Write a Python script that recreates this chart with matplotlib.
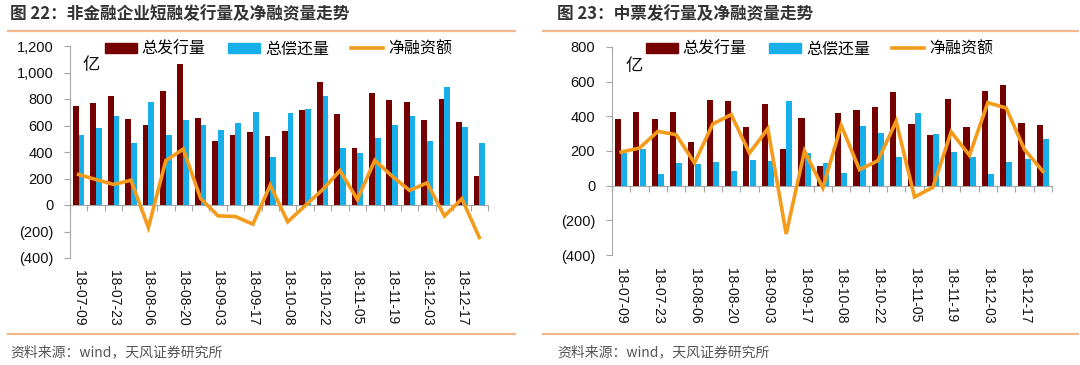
import numpy as np
import matplotlib
matplotlib.use('Agg')
from matplotlib import pyplot as plt
from matplotlib.ticker import FuncFormatter, FixedLocator
from matplotlib.lines import Line2D

plt.rcParams['font.family'] = ['Liberation Sans', 'Noto Sans CJK SC', 'DejaVu Sans']

# %% data
dates = ['18-07-09', '18-07-16', '18-07-23', '18-07-30', '18-08-06', '18-08-13',
         '18-08-20', '18-08-27', '18-09-03', '18-09-10', '18-09-17', '18-09-24',
         '18-10-08', '18-10-15', '18-10-22', '18-10-29', '18-11-05', '18-11-12',
         '18-11-19', '18-11-26', '18-12-03', '18-12-10', '18-12-17', '18-12-24']

# 图22 非金融企业短融
cp_issue = [750, 770, 822, 650, 605, 860, 1067, 660, 482, 532, 550, 517,
            560, 715, 930, 685, 432, 842, 792, 775, 642, 802, 627, 222]
cp_repay = [530, 582, 675, 470, 777, 530, 645, 605, 567, 620, 700, 362,
            692, 725, 820, 427, 392, 505, 607, 675, 480, 890, 587, 470]
cp_net = [230, 192, 155, 187, -170, 335, 422, 50, -82, -87, -145, 150,
          -127, -5, 115, 260, 42, 337, 217, 110, 167, -83, 47, -245]

# 图23 中票
mtn_issue = [385, 425, 383, 425, 252, 494, 490, 338, 473, 213, 392, 115,
             419, 435, 454, 540, 356, 290, 498, 338, 544, 581, 363, 352]
mtn_repay = [188, 212, 69, 131, 125, 135, 87, 150, 140, 490, 188, 131,
             73, 346, 306, 167, 421, 300, 196, 167, 65, 137, 154, 271]
mtn_net = [194, 217, 313, 294, 131, 356, 410, 188, 329, -279, 200, -13,
           348, 92, 144, 371, -65, -10, 310, 175, 479, 448, 208, 83]

RED = '#750000'
BLUE = '#16AFEA'
ORANGE = '#F59B1C'
AXC = '#A6A6A6'
SEP = '#F2B78C'
CJK = ['Noto Sans CJK SC', 'DejaVu Sans']


def paren_fmt(v, pos):
    if v < 0:
        return f'({abs(v):,.0f})'
    return f'{v:,.0f}'


def draw_panel(fig, rect, issue, repay, net, ylim, ystep, legend_x):
    ax = fig.add_axes(rect)
    x = np.arange(len(dates))
    w = 0.33
    ax.bar(x - 0.165, issue, width=w, color=RED, label='总发行量', zorder=2)
    ax.bar(x + 0.165, repay, width=w, color=BLUE, label='总偿还量', zorder=2)
    ax.plot(x, net, color=ORANGE, lw=2.6, label='净融资额', zorder=3,
            solid_joinstyle='miter')

    ax.set_xlim(-0.5, len(dates) - 0.5)
    ax.set_ylim(*ylim)
    ax.set_yticks(np.arange(ylim[0], ylim[1] + 1, ystep))
    ax.yaxis.set_major_formatter(FuncFormatter(paren_fmt))

    for s in ('top', 'right', 'bottom'):
        ax.spines[s].set_visible(False)
    ax.spines['left'].set_color(AXC)
    ax.tick_params(axis='y', length=4, color=AXC, labelsize=10.5, pad=8,
                   labelcolor='#111111')

    # x labels at the bottom, every other week
    ax.set_xticks(x[::2])
    ax.set_xticklabels(dates[::2], rotation=-90, fontsize=10, color='#111111')
    ax.tick_params(axis='x', length=0, pad=9)

    # zero line with boundary ticks
    frac = (0 - ylim[0]) / (ylim[1] - ylim[0])
    sec = ax.secondary_xaxis(frac)
    sec.spines['bottom'].set_color(AXC)
    sec.xaxis.set_major_locator(FixedLocator(np.arange(-0.5, len(dates), 1.0)))
    sec.tick_params(axis='x', length=4, color=AXC, labelbottom=False)

    ax.text(0.03, 0.91, '亿', transform=ax.transAxes, fontsize=12.5,
            family=CJK, color='#111111', va='center')

    handles = [plt.Rectangle((0, 0), 1, 1, color=RED),
               plt.Rectangle((0, 0), 1, 1, color=BLUE),
               Line2D([], [], color=ORANGE, lw=2.6)]
    fig.legend(handles, ['总发行量', '总偿还量', '净融资额'], ncol=3,
               loc='center left', bbox_to_anchor=(legend_x, 1 - 49 / 365),
               frameon=False, prop={'family': CJK, 'size': 11.5},
               handlelength=2.0, handleheight=0.55, handletextpad=0.3,
               columnspacing=1.4, borderaxespad=0, borderpad=0)
    return ax


fig = plt.figure(figsize=(10.8, 3.65), dpi=100)

draw_panel(fig, [70 / 1080, 1 - 258 / 365, 418 / 1080, 212 / 365],
           cp_issue, cp_repay, cp_net, (-400, 1200), 200, 105 / 1080)
draw_panel(fig, [612 / 1080, 1 - 255 / 365, 440 / 1080, 208 / 365],
           mtn_issue, mtn_repay, mtn_net, (-400, 800), 200, 646 / 1080)

# titles, separators, sources
for x0, x1, tx, title in [(8, 515, 10, '图 22：非金融企业短融发行量及净融资量走势'),
                          (543, 1078, 557, '图 23：中票发行量及净融资量走势')]:
    fig.text(tx / 1080, 1 - 14 / 365, title, fontsize=12, fontweight='bold',
             family=CJK, color='#333333', va='center')
    for yy in (31, 334):
        fig.add_artist(Line2D([x0 / 1080, x1 / 1080], [1 - yy / 365] * 2,
                              color=SEP, lw=1.6))
    fig.text(tx / 1080, 1 - 352 / 365, '资料来源：wind，天风证券研究所',
             fontsize=10, family=CJK, color='#555555', va='center')

fig.savefig('out.png', dpi=100, facecolor='white')
